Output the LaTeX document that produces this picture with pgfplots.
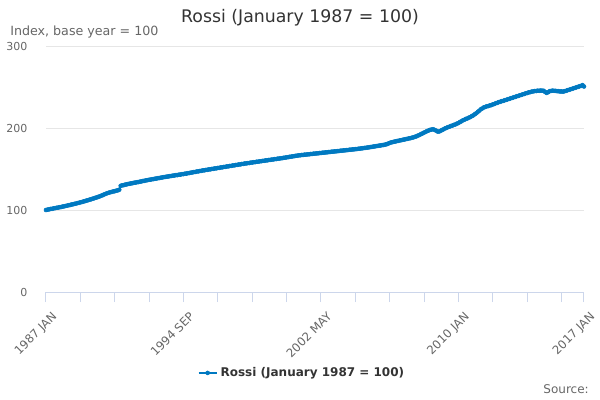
\documentclass[border=0pt]{standalone}
\usepackage{fontspec}
\setmainfont{DejaVu Sans}
\usepackage{pgfplots}
\pgfplotsset{compat=1.18}
\definecolor{lineblue}{HTML}{0079C1}
\definecolor{ticktext}{HTML}{666666}
\definecolor{titletext}{HTML}{333333}
\definecolor{gridgray}{HTML}{E6E6E6}
\definecolor{axisblue}{HTML}{CCD6EB}
\begin{document}
\begin{tikzpicture}
\path[use as bounding box] (0pt,0pt) rectangle (450pt,300pt);
\node[font=\fontsize{13}{15}\selectfont, text=titletext] at (225pt,286.5pt) {Rossi (January 1987 = 100)};
\node[anchor=west, font=\fontsize{9.5}{12}\selectfont, text=ticktext, inner sep=0pt] at (7.5pt,276pt) {Index, base year = 100};
\node[anchor=east, font=\fontsize{9}{11}\selectfont, text=ticktext, inner sep=0pt] at (441.75pt,8.25pt) {Source:};
\begin{axis}[
  at={(34.5pt,81pt)}, anchor=south west, scale only axis,
  width=403.5pt, height=184.5pt,
  xmin=0, xmax=360, ymin=0, ymax=300,
  ytick={0,100,200,300},
  xtick={0,92,184,276,360},
  xticklabels={1987 JAN,1994 SEP,2002 MAY,2010 JAN,2017 JAN},
  minor xtick={23,46,69,115,138,161,207,230,253,299,322,345},
  separate axis lines,
  axis x line*=bottom, axis y line*=left,
  x axis line style={draw=axisblue, line width=0.75pt},
  y axis line style={draw=none},
  ytick style={draw=none},
  xtick style={draw=axisblue, line width=0.75pt},
  minor x tick style={draw=axisblue, line width=0.75pt},
  tick align=outside, xtick pos=lower,
  major tick length=7.5pt, minor tick length=7.5pt,
  ymajorgrids, major grid style={draw=gridgray, line width=0.75pt},
  tick label style={font=\fontsize{8.25}{10}\selectfont, text=ticktext},
  /pgf/number format/assume math mode=true,
  yticklabel style={xshift=-3pt},
  xticklabel style={font=\fontsize{8.8}{10}\selectfont, rotate=45, anchor=north east, inner sep=1pt, yshift=-6.5pt, xshift=-1pt},
  legend style={at={(0.476,-0.329)}, anchor=center, draw=none, fill=none,
    font=\bfseries\fontsize{9}{11}\selectfont, text=titletext},
  legend image code/.code={\draw[mark repeat=2,mark phase=2,#1] plot coordinates {(0cm,0cm) (0.24cm,0cm) (0.48cm,0cm)};},
]
\addplot[color=lineblue, line width=1.8pt, mark=*, mark size=1.5pt, mark options={fill=lineblue, draw=lineblue, line width=0.4pt}]
 table[x expr=\coordindex, y index=0, row sep=\\] {v\\
100.0\\100.5\\100.7\\101.3\\101.4\\102.0\\102.2\\102.7\\102.9\\103.4\\103.6\\104.2\\
104.4\\104.9\\105.2\\105.8\\106.0\\106.7\\106.9\\107.5\\107.8\\108.4\\108.7\\109.4\\
109.7\\110.4\\110.7\\111.5\\111.8\\112.6\\112.9\\113.7\\114.1\\114.9\\115.3\\116.1\\
116.6\\117.5\\118.1\\119.1\\119.7\\120.6\\121.0\\121.7\\122.0\\122.7\\122.9\\123.6\\
123.9\\124.7\\129.5\\130.1\\130.3\\131.0\\131.2\\131.8\\132.0\\132.5\\132.7\\133.3\\
133.4\\134.0\\134.1\\134.7\\134.9\\135.5\\135.6\\136.2\\136.4\\136.9\\137.0\\137.6\\
137.7\\138.2\\138.4\\138.9\\139.0\\139.5\\139.7\\140.2\\140.3\\140.8\\140.9\\141.4\\
141.5\\142.0\\142.1\\142.6\\142.6\\143.1\\143.2\\143.7\\143.8\\144.3\\144.4\\145.0\\
145.1\\145.6\\145.8\\146.3\\146.4\\147.0\\147.1\\147.6\\147.8\\148.3\\148.4\\148.9\\
149.0\\149.5\\149.6\\150.1\\150.2\\150.7\\150.8\\151.3\\151.4\\151.9\\152.0\\152.5\\
152.6\\153.1\\153.2\\153.7\\153.8\\154.3\\154.4\\154.9\\155.0\\155.5\\155.6\\156.1\\
156.2\\156.7\\156.8\\157.2\\157.3\\157.8\\157.9\\158.3\\158.4\\158.9\\158.9\\159.4\\
159.5\\159.9\\160.0\\160.5\\160.5\\161.0\\161.1\\161.5\\161.6\\162.1\\162.1\\162.6\\
162.7\\163.1\\163.2\\163.7\\163.8\\164.3\\164.4\\164.9\\165.0\\165.5\\165.6\\166.1\\
166.2\\166.7\\166.7\\167.1\\167.1\\167.5\\167.5\\167.9\\167.9\\168.3\\168.3\\168.7\\
168.7\\169.1\\169.1\\169.5\\169.5\\169.9\\169.9\\170.3\\170.3\\170.7\\170.7\\171.1\\
171.1\\171.5\\171.5\\171.9\\171.9\\172.3\\172.3\\172.7\\172.7\\173.1\\173.1\\173.5\\
173.5\\173.9\\173.9\\174.3\\174.3\\174.7\\174.8\\175.2\\175.3\\175.7\\175.8\\176.2\\
176.3\\176.8\\176.9\\177.4\\177.5\\178.0\\178.1\\178.6\\178.7\\179.2\\179.3\\179.9\\
180.2\\181.1\\181.7\\182.5\\182.8\\183.4\\183.6\\184.2\\184.4\\185.0\\185.2\\185.8\\
186.0\\186.6\\186.8\\187.4\\187.6\\188.3\\188.6\\189.4\\189.9\\190.9\\191.6\\192.7\\
193.4\\194.5\\195.2\\196.3\\196.9\\197.8\\198.1\\198.5\\197.7\\196.9\\195.7\\195.7\\
196.4\\197.6\\198.4\\199.5\\200.2\\201.1\\201.6\\202.5\\203.0\\203.9\\204.4\\205.4\\
206.1\\207.3\\208.2\\209.4\\210.1\\211.1\\211.7\\212.7\\213.4\\214.6\\215.5\\216.9\\
218.1\\219.8\\221.2\\222.9\\223.9\\225.1\\225.7\\226.5\\226.8\\227.5\\227.9\\228.8\\
229.3\\230.2\\230.7\\231.6\\232.0\\232.8\\233.1\\233.9\\234.3\\235.1\\235.5\\236.3\\
236.7\\237.5\\237.9\\238.7\\239.1\\239.9\\240.3\\241.1\\241.5\\242.3\\242.7\\243.4\\
243.7\\244.4\\244.6\\245.1\\245.1\\245.5\\245.4\\245.7\\245.5\\245.4\\243.9\\242.8\\
243.7\\244.9\\245.2\\245.6\\245.3\\245.3\\244.9\\244.9\\244.5\\244.6\\244.3\\244.9\\
245.3\\246.1\\246.5\\247.3\\247.7\\248.5\\248.9\\249.7\\250.1\\250.9\\251.3\\252.3\\
250.6\\
};
\addlegendentry{Rossi (January 1987 = 100)}
\end{axis}
\end{tikzpicture}
\end{document}
